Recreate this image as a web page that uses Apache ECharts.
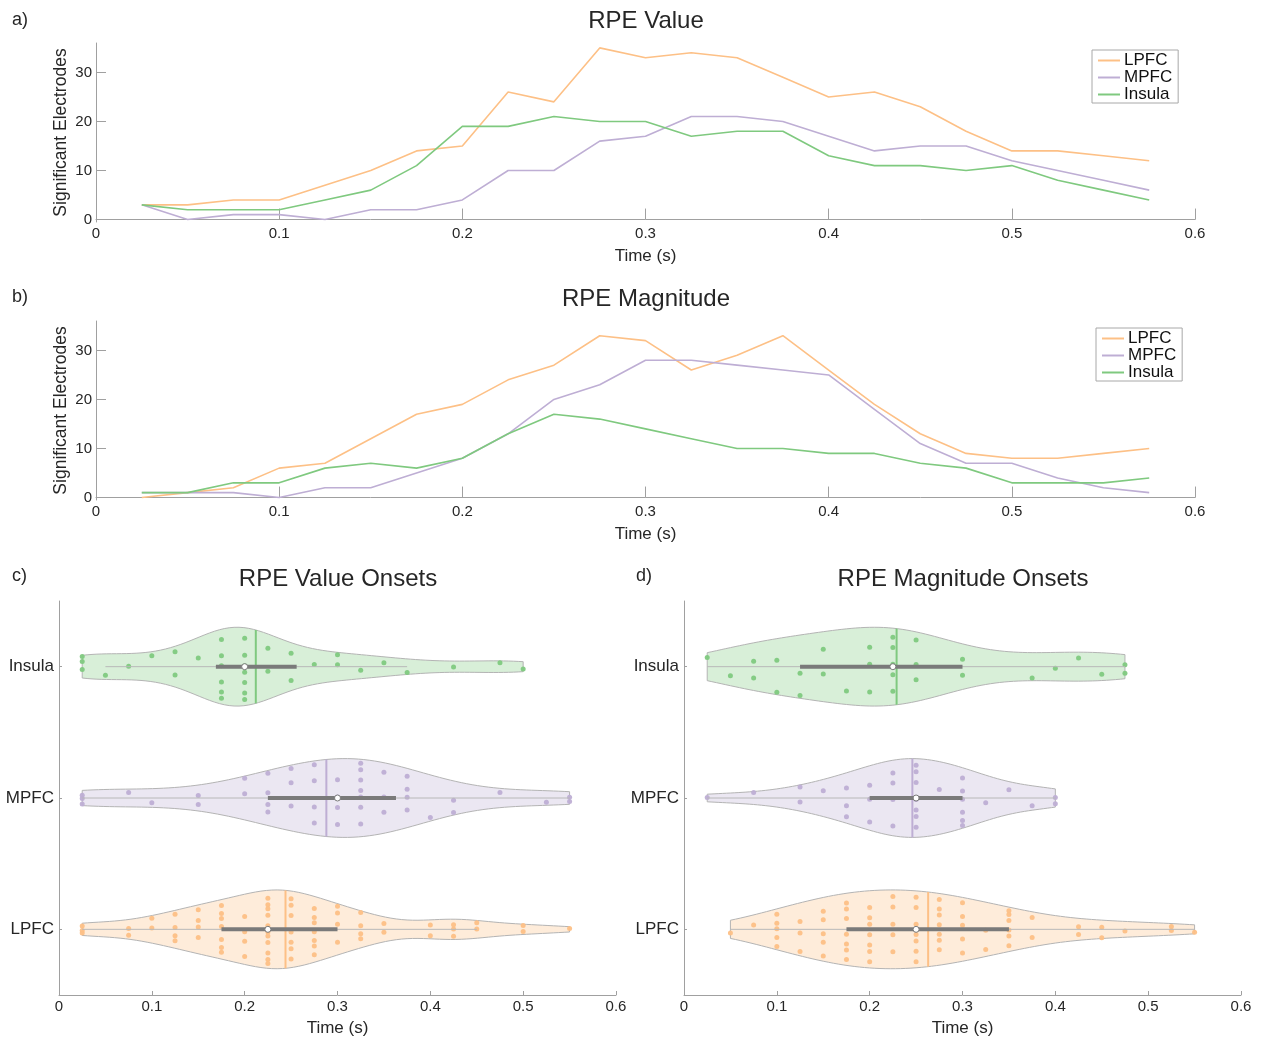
<!DOCTYPE html>
<html>
<head>
<meta charset="utf-8">
<title>RPE electrodes and onsets</title>
<script src="https://cdn.jsdelivr.net/npm/echarts@6/dist/echarts.min.js"></script>
<style>
  html, body { margin: 0; padding: 0; background: #fff; }
  #main { width: 1261px; height: 1038px; }
</style>
</head>
<body>
<div id="main"></div>
<script>
// ---- time course data (count of significant electrodes per time bin) ----
const timeBins = [0.025, 0.05, 0.075, 0.1, 0.125, 0.15, 0.175, 0.2, 0.225, 0.25, 0.275, 0.3,
                  0.325, 0.35, 0.375, 0.4, 0.425, 0.45, 0.475, 0.5, 0.525, 0.55, 0.575];

const valueLPFC   = [3, 3, 4, 4, 7, 10, 14, 15, 26, 24, 35, 33, 34, 33, 29, 25, 26, 23, 18, 14, 14, 13, 12];
const valueMPFC   = [3, 0, 1, 1, 0, 2, 2, 4, 10, 10, 16, 17, 21, 21, 20, 17, 14, 15, 15, 12, 10, 8, 6];
const valueInsula = [3, 2, 2, 2, 4, 6, 11, 19, 19, 21, 20, 20, 17, 18, 18, 13, 11, 11, 10, 11, 8, 6, 4];

const magLPFC   = [0, 1, 2, 6, 7, 12, 17, 19, 24, 27, 33, 32, 26, 29, 33, 26, 19, 13, 9, 8, 8, 9, 10];
const magMPFC   = [1, 1, 1, 0, 2, 2, 5, 8, 13, 20, 23, 28, 28, 27, 26, 25, 18, 11, 7, 7, 4, 2, 1];
const magInsula = [1, 1, 3, 3, 6, 7, 6, 8, 13, 17, 16, 14, 12, 10, 10, 9, 9, 7, 6, 3, 3, 3, 4];

// ---- onset times (s) per electrode ----
const onsetValLPFC = [0.025, 0.025, 0.025, 0.075, 0.075, 0.1, 0.1,
  0.125, 0.125, 0.125, 0.125, 0.15, 0.15, 0.15, 0.15,
  0.175, 0.175, 0.175, 0.175, 0.175, 0.175, 0.175,
  0.2, 0.2, 0.2, 0.2,
  0.225, 0.225, 0.225, 0.225, 0.225, 0.225, 0.225, 0.225, 0.225, 0.225, 0.225,
  0.25, 0.25, 0.25, 0.25, 0.25, 0.25, 0.25,
  0.275, 0.275, 0.275, 0.275, 0.275, 0.275, 0.275,
  0.3, 0.3, 0.3, 0.3, 0.325, 0.325, 0.325, 0.325,
  0.35, 0.35, 0.4, 0.4, 0.425, 0.425, 0.425, 0.45, 0.45, 0.5, 0.5, 0.55];
const onsetValMPFC = [0.025, 0.025, 0.025, 0.075, 0.1, 0.15, 0.15, 0.2, 0.2,
  0.225, 0.225, 0.225, 0.225, 0.25, 0.25, 0.25,
  0.275, 0.275, 0.275, 0.275, 0.3, 0.3, 0.3, 0.3,
  0.325, 0.325, 0.325, 0.325, 0.325, 0.325, 0.325,
  0.35, 0.35, 0.35, 0.375, 0.375, 0.375, 0.375,
  0.4, 0.425, 0.425, 0.475, 0.525, 0.55, 0.55];
const onsetValInsula = [0.025, 0.025, 0.025, 0.05, 0.075, 0.1, 0.125, 0.125, 0.15,
  0.175, 0.175, 0.175, 0.175, 0.175, 0.175,
  0.2, 0.2, 0.2, 0.2, 0.2, 0.2, 0.2,
  0.225, 0.225, 0.25, 0.25, 0.275, 0.3, 0.3, 0.325, 0.35, 0.375, 0.425, 0.475, 0.5];

const onsetMagLPFC = [0.05, 0.075, 0.1, 0.1, 0.1, 0.1, 0.1, 0.125, 0.125, 0.125,
  0.15, 0.15, 0.15, 0.15, 0.15,
  0.175, 0.175, 0.175, 0.175, 0.175, 0.175, 0.175,
  0.2, 0.2, 0.2, 0.2, 0.2, 0.2, 0.2,
  0.225, 0.225, 0.225, 0.225, 0.225,
  0.25, 0.25, 0.25, 0.25, 0.25, 0.25, 0.25,
  0.275, 0.275, 0.275, 0.275, 0.275, 0.275, 0.275,
  0.3, 0.3, 0.3, 0.3, 0.3, 0.325, 0.325,
  0.35, 0.35, 0.35, 0.35, 0.35, 0.35, 0.375, 0.375,
  0.425, 0.425, 0.45, 0.45, 0.475, 0.525, 0.525, 0.55];
const onsetMagMPFC = [0.025, 0.075, 0.125, 0.125, 0.15, 0.175, 0.175, 0.175,
  0.2, 0.2, 0.2, 0.225, 0.225, 0.225, 0.225,
  0.25, 0.25, 0.25, 0.25, 0.25, 0.25, 0.25, 0.275,
  0.3, 0.3, 0.3, 0.3, 0.3, 0.3, 0.325, 0.35, 0.375, 0.4, 0.4];
const onsetMagInsula = [0.025, 0.05, 0.075, 0.075, 0.1, 0.1, 0.125, 0.125, 0.15, 0.15,
  0.175, 0.2, 0.2, 0.2, 0.225, 0.225, 0.225, 0.225, 0.225,
  0.25, 0.25, 0.25, 0.3, 0.3, 0.375, 0.4, 0.425, 0.45, 0.475, 0.475];

// ---- summary statistics per violin (order: LPFC, MPFC, Insula) ----
const valMean   = [0.244, 0.288, 0.212];
const valMedian = [0.225, 0.3, 0.2];
const valQ1     = [0.175, 0.225, 0.169];
const valQ3     = [0.3, 0.363, 0.256];
const valWhiskLo = [0.025, 0.025, 0.05];
const valWhiskHi = [0.45, 0.55, 0.375];

const magMean   = [0.263, 0.246, 0.229];
const magMedian = [0.25, 0.25, 0.225];
const magQ1     = [0.175, 0.2, 0.125];
const magQ3     = [0.35, 0.3, 0.3];
const magWhiskLo = [0.05, 0.025, 0.025];
const magWhiskHi = [0.55, 0.4, 0.475];

const regionNames = ['LPFC', 'MPFC', 'Insula'];
const timeTicks = [0, 0.1, 0.2, 0.3, 0.4, 0.5, 0.6];
const countTicks = [0, 10, 20, 30];

// ---- styling ----
const FONT = "'Liberation Sans', Arial, Helvetica, sans-serif";
const regionColors = ['#fdc086', '#beaed4', '#7fc97f'];
const violinFill = ['rgba(253,192,134,0.3)', 'rgba(190,174,212,0.3)', 'rgba(127,201,127,0.3)'];
const axisGray = '#a0a0a0';
const textColor = '#262626';
const VIOLIN_HALF = 0.3;

// Gaussian kernel density (ksdensity-style default bandwidth), clipped to data range
function violinShape(values) {
  const xs = values.slice().sort((a, b) => a - b);
  const n = xs.length;
  const med = quantileSorted(xs, 0.5);
  const dev = xs.map(v => Math.abs(v - med)).sort((a, b) => a - b);
  let sig = quantileSorted(dev, 0.5) / 0.6745;
  if (sig <= 0) sig = 0.05;
  const bw = sig * Math.pow(4 / (3 * n), 0.2);
  const lo = xs[0], hi = xs[n - 1];
  const steps = 90;
  const grid = [], dens = [];
  for (let i = 0; i <= steps; i++) {
    const v = lo + (hi - lo) * i / steps;
    let s = 0;
    for (const x of xs) { const z = (v - x) / bw; s += Math.exp(-0.5 * z * z); }
    grid.push(v); dens.push(s);
  }
  const mx = Math.max(...dens);
  const half = dens.map(d => d / mx * VIOLIN_HALF);
  return {
    grid, half,
    at(v) {
      if (v <= lo) return half[0];
      if (v >= hi) return half[half.length - 1];
      const t = (v - lo) / (hi - lo) * steps;
      const i = Math.floor(t), f = t - i;
      return half[i] * (1 - f) + half[Math.min(i + 1, steps)] * f;
    }
  };
}
function quantileSorted(a, p) {
  const pos = p * (a.length - 1);
  const i = Math.floor(pos), f = pos - i;
  return a[i] * (1 - f) + (a[Math.min(i + 1, a.length - 1)]) * f;
}

const panels = [
  { onsets: [onsetValLPFC, onsetValMPFC, onsetValInsula],
    mean: valMean, median: valMedian, q1: valQ1, q3: valQ3, wlo: valWhiskLo, whi: valWhiskHi },
  { onsets: [onsetMagLPFC, onsetMagMPFC, onsetMagInsula],
    mean: magMean, median: magMedian, q1: magQ1, q3: magQ3, wlo: magWhiskLo, whi: magWhiskHi }
];
panels.forEach(p => { p.shapes = p.onsets.map(violinShape); });

// spread dots sharing the same onset across the local violin width
function dotPositions(values, shape, pos, groupSeed) {
  const groups = new Map();
  values.forEach(v => groups.set(v, (groups.get(v) || 0) + 1));
  const out = [];
  let g = 0;
  for (const [v, k] of groups) {
    const w = shape.at(v) * 0.92;
    const base = ((g * 0.3819 + groupSeed) % 1);
    for (let i = 0; i < k; i++) {
      const frac = (base + i * 0.618034) % 1;
      out.push([v, pos + (frac * 2 - 1) * w]);
    }
    g++;
  }
  return out;
}

const series = [];
// time-course lines
[[valueLPFC, valueMPFC, valueInsula], [magLPFC, magMPFC, magInsula]].forEach((set, gi) => {
  set.forEach((vals, r) => {
    series.push({
      type: 'line', name: regionNames[r], xAxisIndex: gi, yAxisIndex: gi,
      data: timeBins.map((t, i) => [t, vals[i]]),
      symbol: 'none', showSymbol: false,
      lineStyle: { color: regionColors[r], width: 1.6 },
      itemStyle: { color: regionColors[r] },
      animation: false, z: 3
    });
  });
});

// violins, dots and summary marks
panels.forEach((p, k) => {
  const ai = 2 + k;
  series.push({
    type: 'custom', xAxisIndex: ai, yAxisIndex: ai, silent: true, animation: false, z: 1,
    data: p.median.map((m, r) => [m, r + 1]),
    encode: { x: 0, y: 1 },
    renderItem(params, api) {
      const r = params.dataIndex, s = p.shapes[r], pos = r + 1;
      const pts = [];
      for (let i = 0; i < s.grid.length; i++) pts.push(api.coord([s.grid[i], pos + s.half[i]]));
      for (let i = s.grid.length - 1; i >= 0; i--) pts.push(api.coord([s.grid[i], pos - s.half[i]]));
      return { type: 'polygon', shape: { points: pts },
        style: { fill: violinFill[r], stroke: '#b4b4b4', lineWidth: 1 } };
    }
  });
  p.onsets.forEach((vals, r) => {
    series.push({
      type: 'scatter', xAxisIndex: ai, yAxisIndex: ai, silent: true, animation: false, z: 2,
      data: dotPositions(vals, p.shapes[r], r + 1, 0.17 + 0.29 * r + 0.11 * k),
      symbolSize: 5,
      itemStyle: { color: regionColors[r], opacity: 0.95 }
    });
  });
  series.push({
    type: 'custom', xAxisIndex: ai, yAxisIndex: ai, silent: true, animation: false, z: 4,
    data: p.median.map((m, r) => [m, r + 1]),
    encode: { x: 0, y: 1 },
    renderItem(params, api) {
      const r = params.dataIndex, s = p.shapes[r], pos = r + 1;
      const mw = s.at(p.mean[r]);
      const m1 = api.coord([p.mean[r], pos - mw]), m2 = api.coord([p.mean[r], pos + mw]);
      const w1 = api.coord([p.wlo[r], pos]), w2 = api.coord([p.whi[r], pos]);
      const b1 = api.coord([p.q1[r], pos]), b2 = api.coord([p.q3[r], pos]);
      const md = api.coord([p.median[r], pos]);
      return { type: 'group', children: [
        { type: 'line', shape: { x1: w1[0], y1: w1[1], x2: w2[0], y2: w2[1] },
          style: { stroke: '#b8b8b8', lineWidth: 1 } },
        { type: 'line', shape: { x1: m1[0], y1: m1[1], x2: m2[0], y2: m2[1] },
          style: { stroke: regionColors[r], lineWidth: 2 } },
        { type: 'line', shape: { x1: b1[0], y1: b1[1], x2: b2[0], y2: b2[1] },
          style: { stroke: '#7a7a7a', lineWidth: 4 } },
        { type: 'circle', shape: { cx: md[0], cy: md[1], r: 3 },
          style: { fill: '#ffffff', stroke: '#7a7a7a', lineWidth: 1 } }
      ] };
    }
  });
});

function timeAxis(gi, tickLen) {
  return {
    type: 'value', gridIndex: gi, min: 0, max: 0.6, interval: 0.1,
    name: 'Time (s)', nameLocation: 'middle', nameGap: gi < 2 ? 26 : 25,
    nameTextStyle: { fontFamily: FONT, fontSize: 17, color: textColor },
    axisLine: { show: true, lineStyle: { color: axisGray, width: 1 } },
    axisTick: { show: true, inside: true, length: tickLen, lineStyle: { color: axisGray } },
    axisLabel: { fontFamily: FONT, fontSize: 15, color: textColor, margin: 4,
      formatter: v => String(+v.toFixed(2)), customValues: timeTicks },
    splitLine: { show: false }
  };
}
function countAxis(gi) {
  return {
    type: 'value', gridIndex: gi, min: -0.5, max: 36,
    name: 'Significant Electrodes', nameLocation: 'middle', nameGap: 26,
    nameMoveOverlap: false,
    nameTextStyle: { fontFamily: FONT, fontSize: 17.5, color: textColor },
    axisLine: { show: true, lineStyle: { color: axisGray, width: 1 } },
    axisTick: { show: true, inside: true, length: 10, customValues: countTicks,
      lineStyle: { color: axisGray } },
    axisLabel: { fontFamily: FONT, fontSize: 15, color: textColor, margin: 4,
      customValues: countTicks },
    splitLine: { show: false }
  };
}
function regionAxis(gi) {
  return {
    type: 'value', gridIndex: gi, min: 0.5, max: 3.5,
    axisLine: { show: true, lineStyle: { color: axisGray, width: 1 } },
    axisTick: { show: true, inside: true, length: 3, customValues: [1, 2, 3],
      lineStyle: { color: axisGray } },
    axisLabel: { fontFamily: FONT, fontSize: 17, color: textColor, margin: 5,
      customValues: [1, 2, 3], formatter: v => regionNames[Math.round(v) - 1] },
    splitLine: { show: false }
  };
}

function label(text, x, y, size, align) {
  return { type: 'text', x, y, silent: true,
    style: { text, fill: textColor, font: size + 'px ' + FONT,
      textAlign: align || 'center', textVerticalAlign: 'middle' } };
}

function legend(left, top) {
  return {
    data: regionNames.map(n => ({ name: n, icon: 'rect' })),
    orient: 'vertical', left, top,
    itemWidth: 22, itemHeight: 2, itemGap: 0,
    padding: [2, 6, 0, 6],
    borderColor: '#a8a8a8', borderWidth: 1, backgroundColor: '#fff',
    textStyle: { fontFamily: FONT, fontSize: 17, lineHeight: 17, color: '#111', padding: [0, 0, 0, -1] },
    selectedMode: false
  };
}

const option = {
  animation: false,
  backgroundColor: '#ffffff',
  grid: [
    { left: 96, top: 43, width: 1099, height: 179 },
    { left: 96, top: 321, width: 1099, height: 179 },
    { left: 59, top: 601, width: 557, height: 394 },
    { left: 684, top: 601, width: 557, height: 394 }
  ],
  xAxis: [timeAxis(0, 11), timeAxis(1, 11), timeAxis(2, 4), timeAxis(3, 4)],
  yAxis: [countAxis(0), countAxis(1), regionAxis(2), regionAxis(3)],
  legend: [legend(1092, 50), legend(1096, 328)],
  graphic: [
    label('a)', 12, 20, 18, 'left'),
    label('RPE Value', 646, 21, 24),
    label('b)', 12, 297, 18, 'left'),
    label('RPE Magnitude', 646, 299, 24),
    label('c)', 12, 576, 18, 'left'),
    label('RPE Value Onsets', 338, 579, 24),
    label('d)', 636, 576, 18, 'left'),
    label('RPE Magnitude Onsets', 963, 579, 24)
  ],
  series
};

const chart = echarts.init(document.getElementById('main'), null, { renderer: 'canvas' });
chart.setOption(option);
</script>
</body>
</html>
